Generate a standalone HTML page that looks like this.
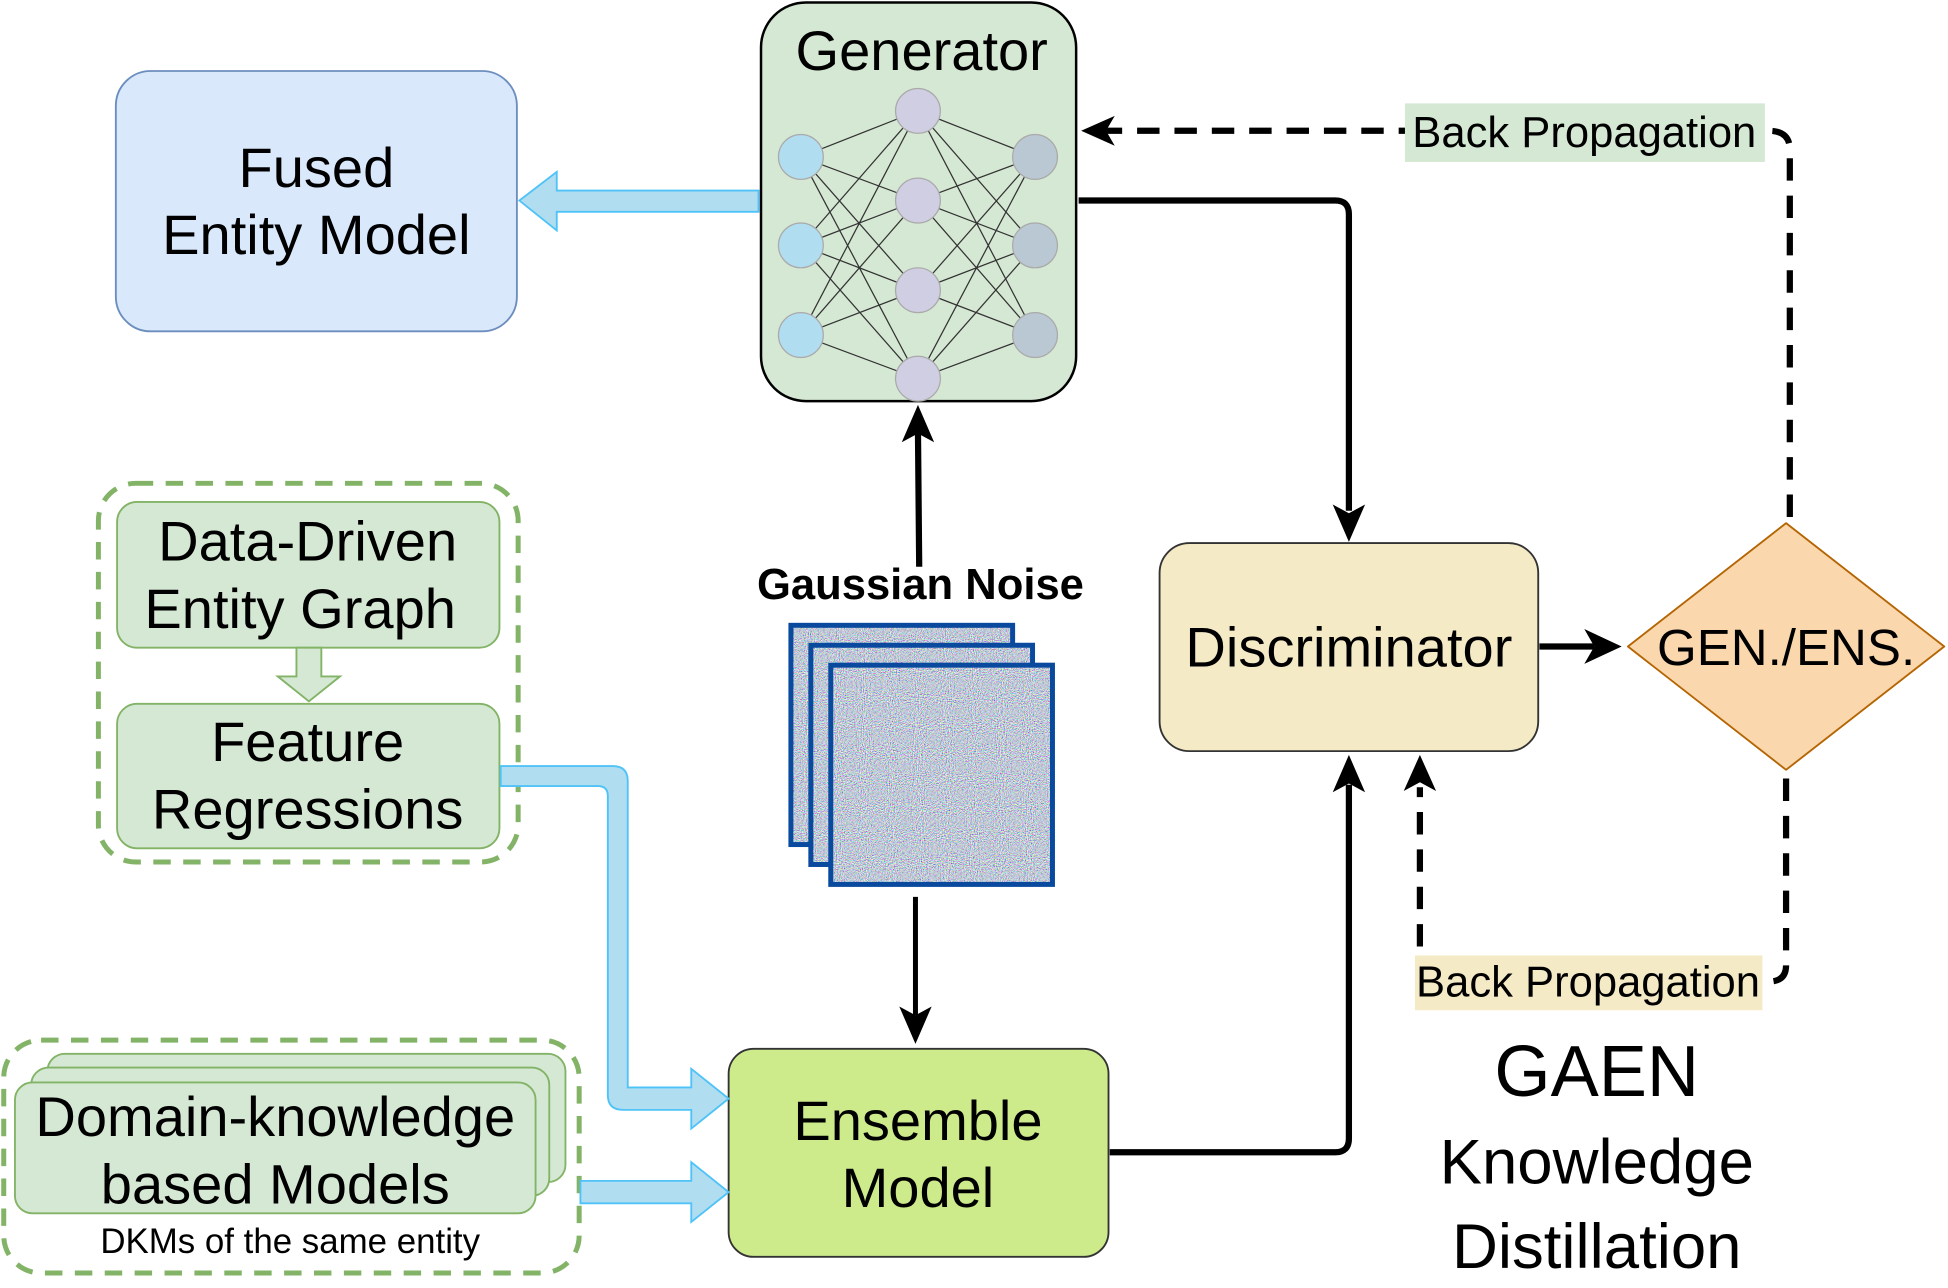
<!DOCTYPE html>
<html><head><meta charset="utf-8"><style>html,body{margin:0;padding:0;background:#fff}svg{display:block}text{font-family:"Liberation Sans",sans-serif}</style></head>
<body>
<svg width="1948" height="1288" viewBox="0 0 1564 1034" preserveAspectRatio="none" xmlns="http://www.w3.org/2000/svg">
<defs>
<filter id="nz" x="0" y="0" width="100%" height="100%"><feTurbulence type="fractalNoise" baseFrequency="1.2" numOctaves="1" seed="3"/><feColorMatrix type="matrix" values="2.2 0 0 0 -0.55  0 2.2 0 0 -0.5  0 0 2.2 0 -0.4  0 0 0 0 1"/></filter>
</defs>
<!-- Fused -->
<rect x="93" y="57" width="322" height="209" rx="28" fill="#dae8fc" stroke="#6c8ebf" stroke-width="1.5"/>
<text x="254" y="150" font-size="45" text-anchor="middle">Fused</text>
<text x="254" y="204" font-size="45" text-anchor="middle">Entity Model</text>
<path d="M609,153 L447,153 L447,138 L417,161 L447,185 L447,170 L609,170 z" fill="#b1ddf0" stroke="#4fc3f7" stroke-width="1.5"/>
<!-- Generator -->
<rect x="611" y="2" width="253" height="320" rx="36" fill="#d5e8d4" stroke="#000" stroke-width="2"/>
<text x="740" y="56" font-size="45" text-anchor="middle">Generator</text>
<g stroke="#333" stroke-width="1">
<path d="M643,126L737,89M643,126L737,161M643,126L737,233M643,126L737,304M643,197L737,89M643,197L737,161M643,197L737,233M643,197L737,304M643,269L737,89M643,269L737,161M643,269L737,233M643,269L737,304M831,126L737,89M831,126L737,161M831,126L737,233M831,126L737,304M831,197L737,89M831,197L737,161M831,197L737,233M831,197L737,304M831,269L737,89M831,269L737,161M831,269L737,233M831,269L737,304"/>
</g>
<g stroke="#aaa" stroke-width="1">
<circle cx="643" cy="126" r="18" fill="#b1ddf0"/><circle cx="643" cy="197" r="18" fill="#b1ddf0"/><circle cx="643" cy="269" r="18" fill="#b1ddf0"/>
<circle cx="737" cy="89" r="18" fill="#d0cee2"/><circle cx="737" cy="161" r="18" fill="#d0cee2"/><circle cx="737" cy="233" r="18" fill="#d0cee2"/><circle cx="737" cy="304" r="18" fill="#d0cee2"/>
<circle cx="831" cy="126" r="18" fill="#bac8d3"/><circle cx="831" cy="197" r="18" fill="#bac8d3"/><circle cx="831" cy="269" r="18" fill="#bac8d3"/>
</g>
<!-- Back propagation top -->
<path d="M1437,415 L1437,120 Q1437,105 1420,105 L880,105" fill="none" stroke="#000" stroke-width="5" stroke-dasharray="18,12"/>
<path d="M868,105 L895,93 L888,105 L895,117 z" fill="#000"/>
<rect x="1128" y="83" width="289" height="47" fill="#d5e8d4"/>
<text x="1272" y="118" font-size="35" text-anchor="middle">Back Propagation</text>
<!-- gen -> disc -->
<path d="M866,161 L1072,161 Q1083,161 1083,172 L1083,410" fill="none" stroke="#000" stroke-width="5"/>
<path d="M1083,435 L1070,405 L1083,412 L1096,405 z" fill="#000"/>
<!-- Discriminator -->
<rect x="931" y="436" width="304" height="167" rx="24" fill="#f5eac6" stroke="#333" stroke-width="1.5"/>
<text x="1083" y="535" font-size="45" text-anchor="middle">Discriminator</text>
<path d="M1236,519 L1280,519" stroke="#000" stroke-width="5"/>
<path d="M1302,519 L1272,505 L1280,519 L1272,533 z" fill="#000"/>
<polygon points="1434,420 1561,519 1434,618 1307,519" fill="#fad7ac" stroke="#b46504" stroke-width="1.5" stroke-linejoin="round"/>
<text x="1434" y="534" font-size="41" text-anchor="middle">GEN./ENS.</text>
<!-- back propagation bottom -->
<path d="M1434,625 L1434,775 Q1434,788 1420,788 L1140,788 L1140,632" fill="none" stroke="#000" stroke-width="5" stroke-dasharray="18,12"/>
<path d="M1140,606 L1127,635 L1140,628 L1153,635 z" fill="#000"/>
<rect x="1136" y="767" width="279" height="44" fill="#f5eac6"/>
<text x="1275" y="800" font-size="35" text-anchor="middle">Back Propagation</text>
<!-- GAEN -->
<text x="1282" y="880" font-size="58" text-anchor="middle">GAEN</text>
<text x="1282" y="950" font-size="51" text-anchor="middle">Knowledge</text>
<text x="1282" y="1018" font-size="51" text-anchor="middle">Distillation</text>
<!-- noise -> gen -->
<path d="M738,455 L737,345" stroke="#000" stroke-width="5"/>
<path d="M737,325 L724,355 L737,348 L750,355 z" fill="#000"/>
<text x="739" y="481" font-size="35" font-weight="bold" text-anchor="middle">Gaussian Noise</text>
<rect x="635" y="502" width="178" height="176" fill="#889" filter="url(#nz)"/>
<rect x="635" y="502" width="178" height="176" fill="none" stroke="#0a4a9e" stroke-width="4"/>
<rect x="651" y="518" width="178" height="176" fill="#889" filter="url(#nz)"/>
<rect x="651" y="518" width="178" height="176" fill="none" stroke="#0a4a9e" stroke-width="4"/>
<rect x="667" y="534" width="178" height="176" fill="#889" filter="url(#nz)"/>
<rect x="667" y="534" width="178" height="176" fill="none" stroke="#0a4a9e" stroke-width="4"/>
<!-- noise -> ensemble -->
<path d="M735,720 L735,815" stroke="#000" stroke-width="4"/>
<path d="M735,838 L722,808 L735,815 L748,808 z" fill="#000"/>
<!-- Ensemble -->
<rect x="585" y="842" width="305" height="167" rx="20" fill="#cdeb8b" stroke="#333" stroke-width="1.5"/>
<text x="737" y="915" font-size="45" text-anchor="middle">Ensemble</text>
<text x="737" y="969" font-size="45" text-anchor="middle">Model</text>
<path d="M891,925 L1072,925 Q1083,925 1083,914 L1083,630" fill="none" stroke="#000" stroke-width="5"/>
<path d="M1083,606 L1070,636 L1083,629 L1096,636 z" fill="#000"/>
<!-- green dashed group 1 -->
<rect x="79" y="388" width="337" height="304" rx="30" fill="none" stroke="#82b366" stroke-width="4" stroke-dasharray="14,10"/>
<rect x="94" y="403" width="307" height="117" rx="16" fill="#d5e8d4" stroke="#82b366" stroke-width="1.5"/>
<text x="247" y="450" font-size="45" text-anchor="middle">Data-Driven</text>
<text x="241" y="504" font-size="45" text-anchor="middle">Entity Graph</text>
<path d="M238,520 L238,543 L223,543 L248,563 L273,543 L258,543 L258,520 z" fill="#d5e8d4" stroke="#82b366" stroke-width="1.5"/>
<rect x="94" y="565" width="307" height="116" rx="16" fill="#d5e8d4" stroke="#82b366" stroke-width="1.5"/>
<text x="247" y="611" font-size="45" text-anchor="middle">Feature</text>
<text x="247" y="665" font-size="45" text-anchor="middle">Regressions</text>
<path d="M402,615 L492,615 Q504,615 504,627 L504,873 L555,873 L555,858 L585,882 L555,906 L555,891 L500,891 Q488,891 488,879 L488,639 Q488,631 480,631 L402,631 z" fill="#b1ddf0" stroke="#4fc3f7" stroke-width="1.5"/>
<!-- group 2 -->
<rect x="3" y="835" width="462" height="187" rx="30" fill="none" stroke="#82b366" stroke-width="4" stroke-dasharray="14,10"/>
<rect x="38" y="846" width="416" height="103" rx="14" fill="#d5e8d4" stroke="#82b366" stroke-width="1.5"/>
<rect x="25" y="857" width="416" height="103" rx="14" fill="#d5e8d4" stroke="#82b366" stroke-width="1.5"/>
<rect x="12" y="869" width="418" height="105" rx="14" fill="#d5e8d4" stroke="#82b366" stroke-width="1.5"/>
<text x="221" y="912" font-size="45" text-anchor="middle">Domain-knowledge</text>
<text x="221" y="966" font-size="45" text-anchor="middle">based Models</text>
<text x="233" y="1006" font-size="28" text-anchor="middle">DKMs of the same entity</text>
<path d="M466,948 L555,948 L555,933 L585,957 L555,981 L555,966 L466,966 z" fill="#b1ddf0" stroke="#4fc3f7" stroke-width="1.5"/>
</svg>
</body></html>
